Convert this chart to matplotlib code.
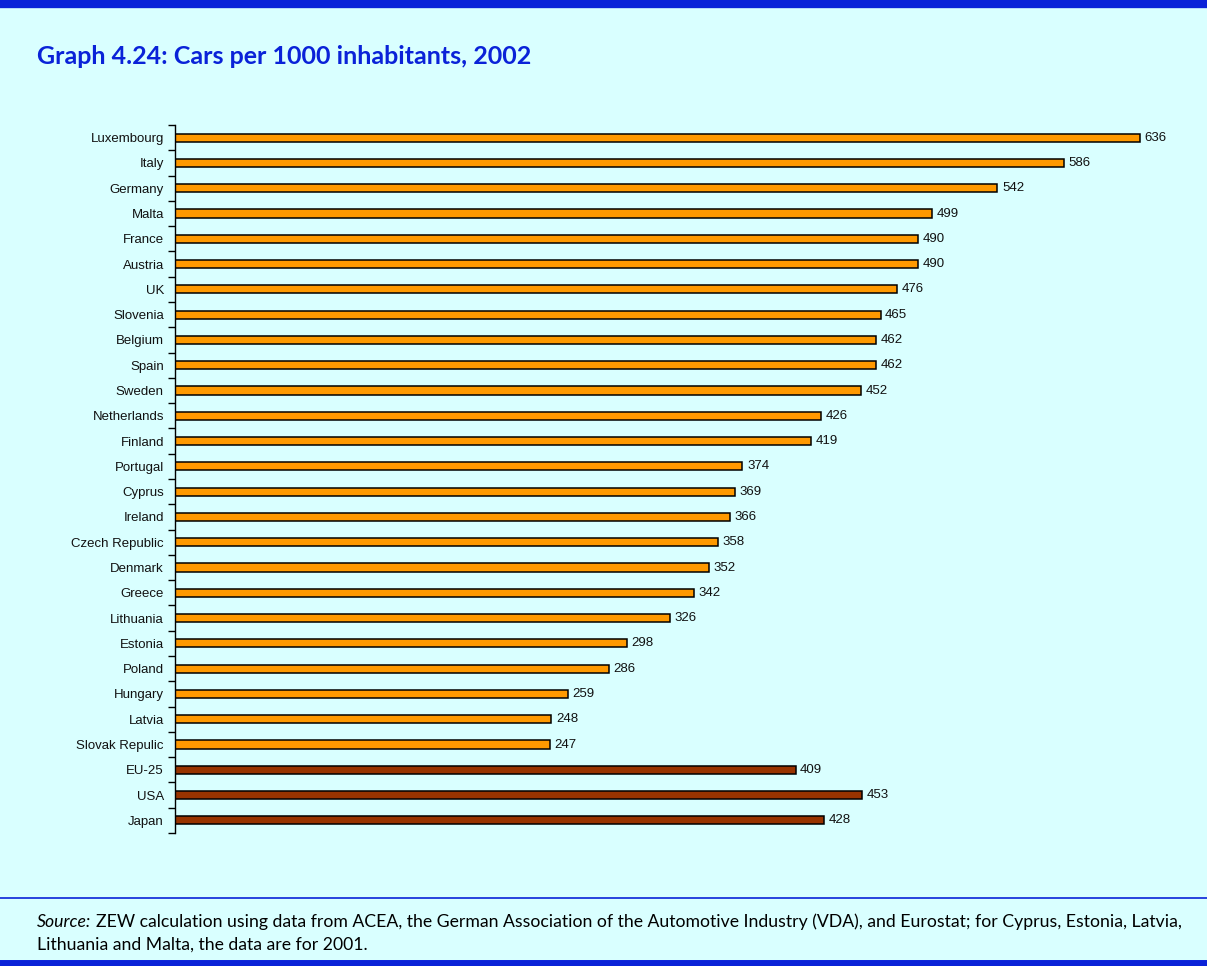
import numpy as np
import matplotlib
matplotlib.use("Agg")
import matplotlib.pyplot as plt
from matplotlib.lines import Line2D

# data
countries = ["Luxembourg", "Italy", "Germany", "Malta", "France", "Austria", "UK",
             "Slovenia", "Belgium", "Spain", "Sweden", "Netherlands", "Finland",
             "Portugal", "Cyprus", "Ireland", "Czech Republic", "Denmark", "Greece",
             "Lithuania", "Estonia", "Poland", "Hungary", "Latvia", "Slovak Repulic",
             "EU-25", "USA", "Japan"]
cars = [636, 586, 542, 499, 490, 490, 476, 465, 462, 462, 452, 426, 419,
        374, 369, 366, 358, 352, 342, 326, 298, 286, 259, 248, 247,
        409, 453, 428]
n_members = 25

bg = "#D9FFFF"
blue = "#0A22D8"

fig = plt.figure(figsize=(12.07, 9.66), dpi=100, facecolor=bg)

# frame lines
fig.add_artist(Line2D([0, 1], [1 - 4 / 966] * 2, color=blue, lw=6, transform=fig.transFigure))
fig.add_artist(Line2D([0, 1], [1 - 898 / 966] * 2, color=blue, lw=1.2, transform=fig.transFigure))
fig.add_artist(Line2D([0, 1], [3 / 966] * 2, color=blue, lw=5, transform=fig.transFigure))

fig.text(37 / 1207, 1 - 57 / 966, "Graph 4.24: Cars per 1000 inhabitants, 2002",
         fontsize=18, fontweight="bold", color=blue, family="Lato", va="center")

ax = fig.add_axes([175 / 1207, 1 - 833 / 966, 1020 / 1207, 708 / 966])
ax.set_facecolor(bg)

y = np.arange(len(countries))
colors = ["#FF9900"] * n_members + ["#993300"] * (len(countries) - n_members)
ax.barh(y, cars, height=0.32, color=colors, edgecolor="black", linewidth=1.1)

for yi, v in zip(y, cars):
    ax.text(v + 3, yi, str(v), va="center", ha="left", fontsize=9.5,
            family="Liberation Sans", color="#111111")

ax.set_xlim(0, 1020 / (965 / 636))
ax.set_ylim(len(countries) - 0.5, -0.5)
ax.set_yticks(y)
ax.set_yticklabels(countries, fontsize=9.5, family="Liberation Sans", color="#111111")
ax.set_yticks(np.arange(len(countries) + 1) - 0.5, minor=True)
ax.tick_params(axis="y", which="major", length=0, pad=8)
ax.tick_params(axis="y", which="minor", length=5, direction="out", width=1)
ax.set_xticks([])
for s in ["top", "right", "bottom"]:
    ax.spines[s].set_visible(False)
ax.spines["left"].set_linewidth(1)

src1 = ("ZEW calculation using data from ACEA, the German Association of the Automotive Industry "
        "(VDA), and Eurostat; for Cyprus, Estonia, Latvia,")
src2 = "Lithuania and Malta, the data are for 2001."
t = fig.text(37 / 1207, 1 - 922 / 966, "Source:", fontsize=12.7, style="italic",
             family="Lato", va="center")
fig.canvas.draw()
bb = t.get_window_extent()
fig.text((bb.x1 + 5) / 1207, 1 - 922 / 966, src1, fontsize=12.7, family="Lato", va="center")
fig.text(37 / 1207, 1 - 945 / 966, src2, fontsize=12.7, family="Lato", va="center")

fig.savefig("out.png", dpi=100, facecolor=bg)
